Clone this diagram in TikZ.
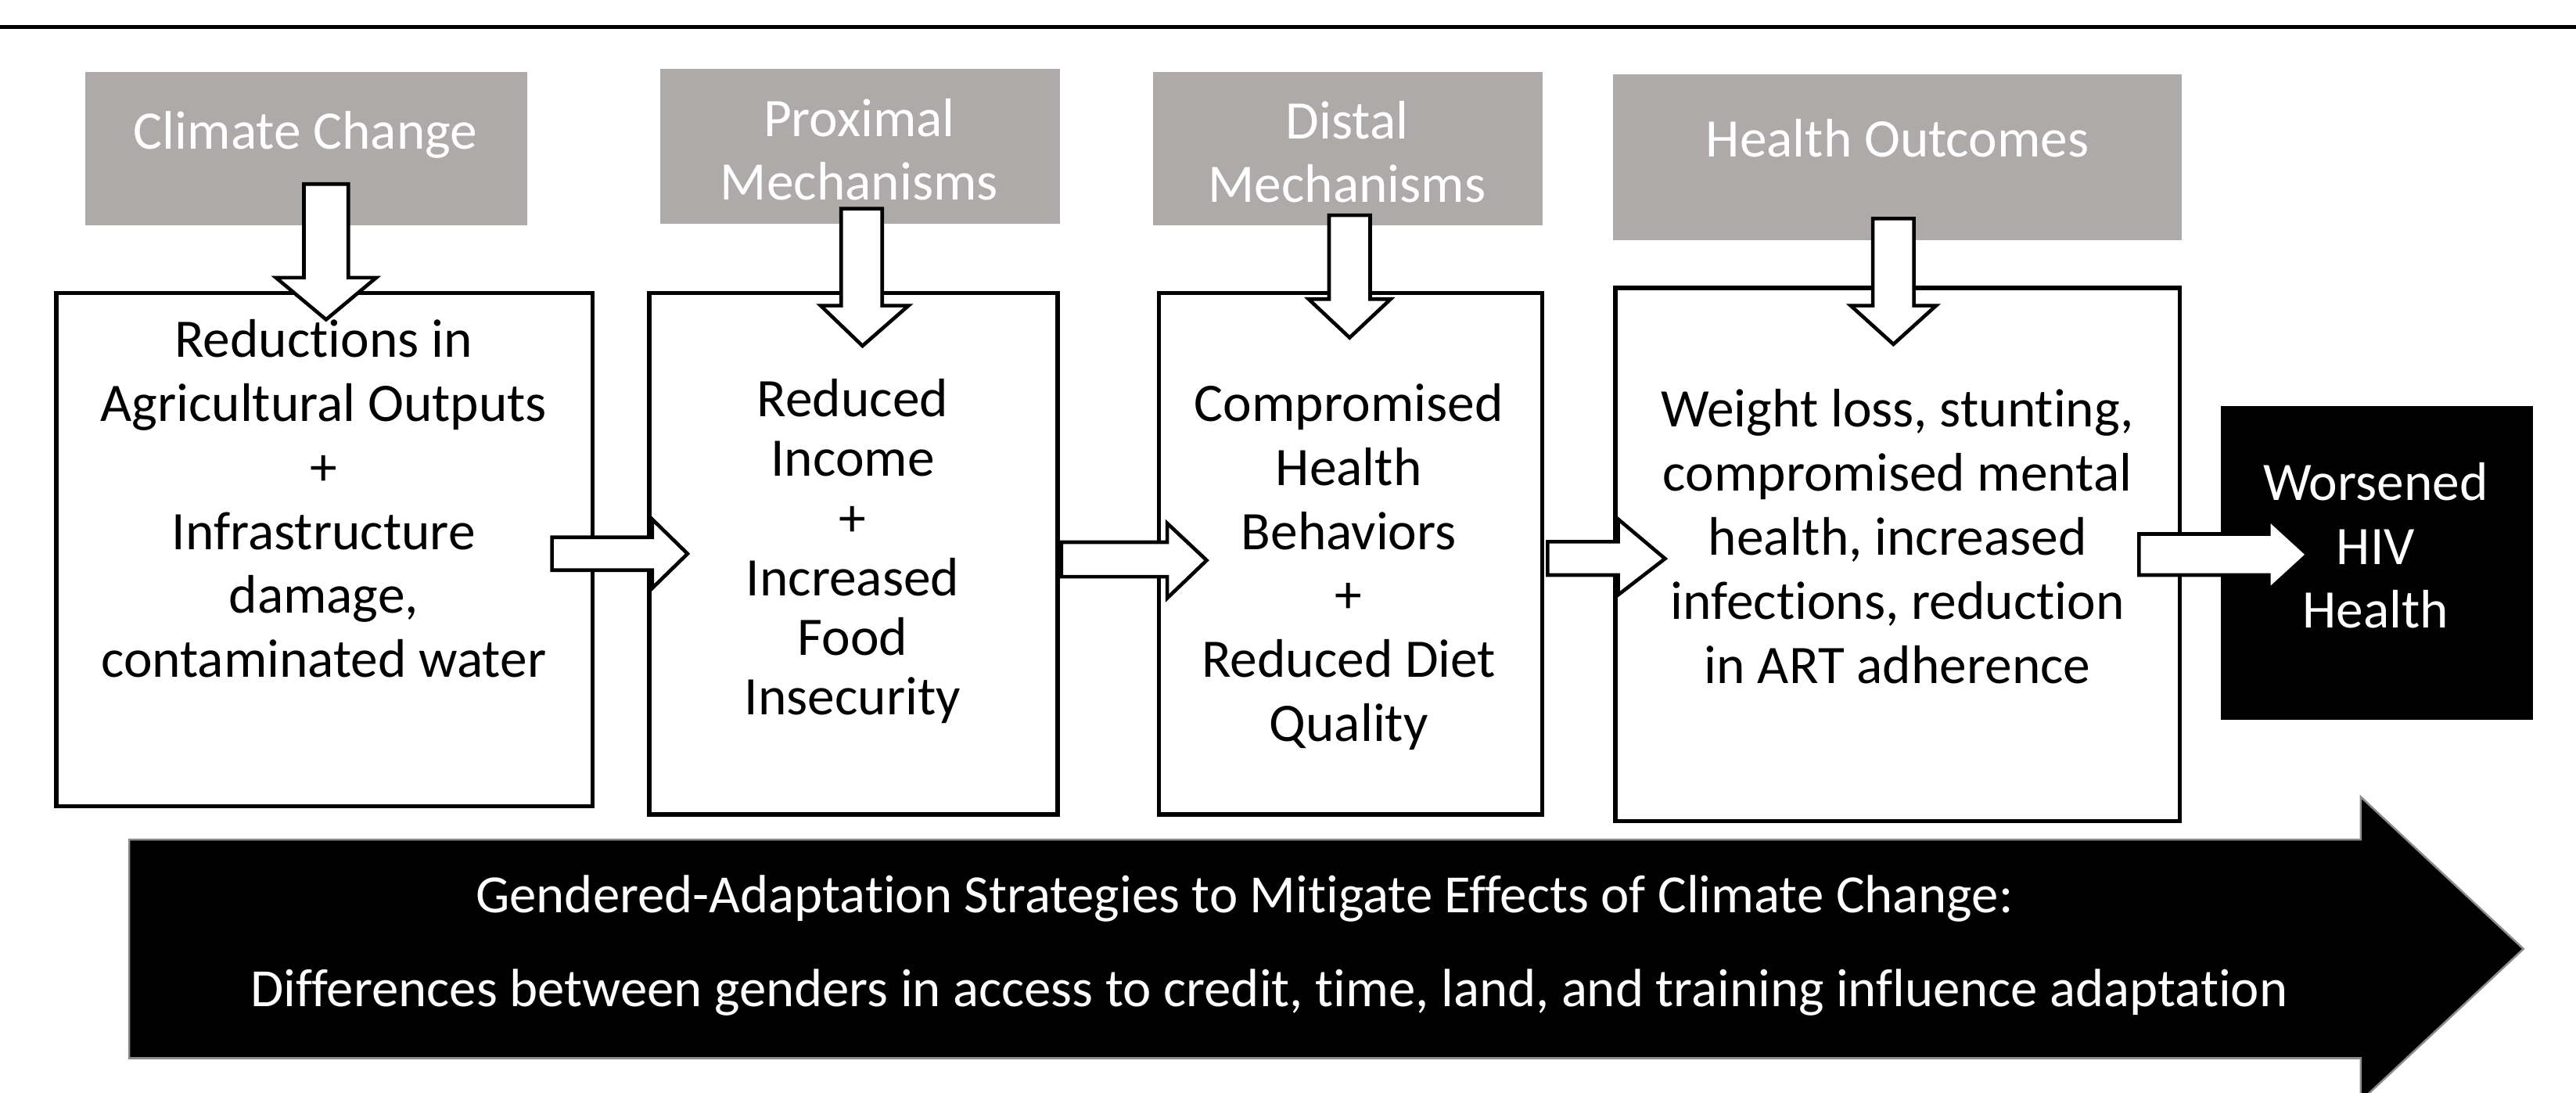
\documentclass[tikz,border=0pt]{standalone}
\usepackage{fontspec}
\setmainfont{Carlito}[Ligatures={NoCommon}]
\usetikzlibrary{fit}
\definecolor{hdrgray}{RGB}{174,170,170}
\definecolor{edgegray}{RGB}{140,140,140}
\begin{document}
\begin{tikzpicture}[x=0.25mm,y=-0.25mm,
  hdr/.style={fill=hdrgray, draw=none, inner sep=0pt},
  stage/.style={draw=black, line width=0.65mm, fill=white, inner sep=0pt},
  outcome/.style={fill=black, draw=none, inner sep=0pt},
  lbl/.style={align=center, inner sep=0pt, font=\fontsize{23.5}{27.7}\selectfont},
  lbltight/.style={align=center, inner sep=0pt, font=\fontsize{23.5}{25.8}\selectfont},
  hdrlbl/.style={lbl, text=white},
  bandlbl/.style={inner sep=0pt, text=white, font=\fontsize{23.3}{27}\selectfont},
  flow/.style={draw=black, line width=0.55mm, fill=white, line join=miter},
]
\useasboundingbox (0,0) rectangle (1568,665);
\fill[white] (0,0) rectangle (1568,665);

% rule across the top
\draw[line width=0.55mm] (0,16.5) -- (1568,16.5);

% grey column headers
\node[hdr, fit={(52,44) (321,137)}] (h1) {};
\node[hdr, fit={(402,42) (645,136)}] (h2) {};
\node[hdr, fit={(702,44) (939,137)}] (h3) {};
\node[hdr, fit={(982,45) (1328,146)}] (h4) {};

% stage boxes
\node[stage, fit={(34.3,178.3) (360.7,490.7)}] (b1) {};
\node[stage, fit={(395.3,178.3) (643.7,495.7)}] (b2) {};
\node[stage, fit={(705.3,178.3) (938.7,495.7)}] (b3) {};
\node[stage, fit={(983.3,175.3) (1326.7,499.7)}] (b4) {};
\node[outcome, fit={(1352,247) (1542,438)}] (hiv) {};

% header labels
\node[hdrlbl] (t1) at (186,82) {Climate Change};
\node[hdrlbl] (t2) at (523,91) {Proximal\\Mechanisms};
\node[hdrlbl] (t3) at (820,92.5) {Distal\\Mechanisms};
\node[hdrlbl] (t4) at (1155,84) {Health Outcomes};

% box labels
\node[lbl] (l1) at (197,303.5) {Reductions in\\Agricultural Outputs\\+\\Infrastructure\\damage,\\contaminated water};
\node[lbltight] (l2) at (519,335.5) {Reduced\\Income\\+\\Increased\\Food\\Insecurity};
\node[lbl] (l3) at (821,345) {Compromised\\Health\\Behaviors\\+\\Reduced Diet\\Quality};
\node[lbl] (l4) at (1155,326.5) {Weight loss, stunting,\\compromised mental\\health, increased\\infections, reduction\\in ART adherence};
\node[lbl, text=white] (l5) at (1446,332) {Worsened\\HIV\\Health};

% downward block arrows from headers into boxes
\draw[flow] (185,112) -- (212,112) -- (212,169) -- (229,169) -- (198.5,194.5) -- (168,169) -- (185,169) -- cycle;
\draw[flow] (512,127) -- (537,127) -- (537,186) -- (553,186) -- (525,210.5) -- (499.5,186) -- (512,186) -- cycle;
\draw[flow] (809,131) -- (834,131) -- (834,182) -- (846.5,182) -- (821.5,205.5) -- (796.5,182) -- (809,182) -- cycle;
\draw[flow] (1140,133) -- (1165,133) -- (1165,186) -- (1178.5,186) -- (1152.5,209.5) -- (1126.5,186) -- (1140,186) -- cycle;

% rightward block arrows between boxes
\draw[flow] (336,327) -- (397,327) -- (397,316) -- (418.5,337) -- (397,358) -- (397,347) -- (336,347) -- cycle;
\draw[flow] (646,330) -- (710.5,330) -- (710.5,318.5) -- (734.5,341) -- (710.5,364) -- (710.5,351) -- (646,351) -- cycle;
\draw[flow] (942,329.7) -- (985,329.7) -- (985,316) -- (1013.5,340) -- (985,362) -- (985,350) -- (942,350) -- cycle;
\draw[flow] (1302,325) -- (1381,325) -- (1381,316) -- (1404.5,337.5) -- (1381,359) -- (1381,350) -- (1302,350) -- cycle;

% broad arrow along the bottom
\draw[fill=black, draw=edgegray, line width=0.3mm, line join=miter]
  (78.6,511) -- (1437,511) -- (1437,485) -- (1536,577.5) -- (1437,670) -- (1437,644) -- (78.6,644) -- cycle;
\node[bandlbl] (g1) at (757.5,547) {Gendered-Adaptation Strategies to Mitigate Effects of Climate Change:};
\node[bandlbl] (g2) at (772.5,604) {Differences between genders in access to credit, time, land, and training influence adaptation};
\end{tikzpicture}
\end{document}
